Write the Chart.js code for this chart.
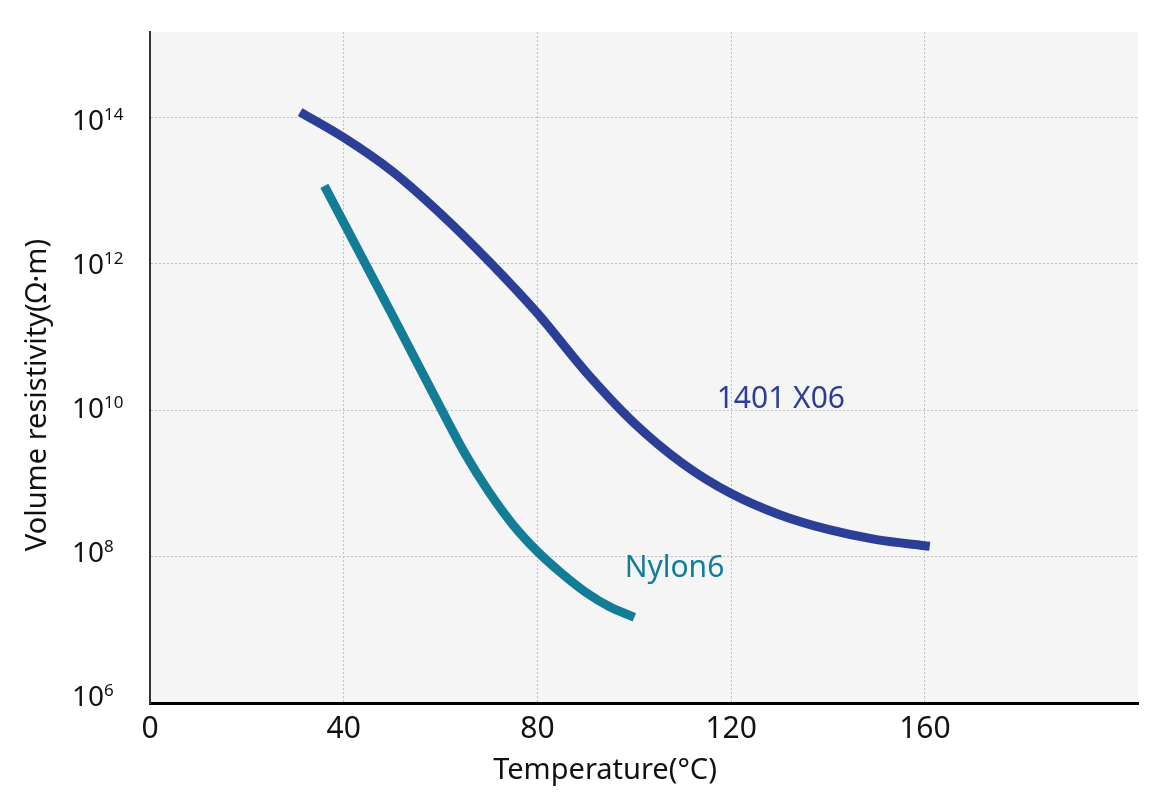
<!DOCTYPE html>
<html>
<head>
<meta charset="utf-8">
<script src="https://cdn.jsdelivr.net/npm/chart.js@4.4.1/dist/chart.umd.min.js"></script>
<style>
html, body { margin: 0; padding: 0; background: #fff; }
#wrap { width: 1160px; height: 812px; }
</style>
</head>
<body>
<div id="wrap"><canvas id="myChart"></canvas></div>
<script>
// datos
const xTicks = [0, 40, 80, 120, 160];
const yTicks = [1e6, 1e8, 1e10, 1e12, 1e14];

const tempX06 = [31, 40, 50, 60, 70, 80, 90, 100, 110, 120, 130, 140, 150, 161];
const resX06 = [1.17e14, 5.25e13, 1.82e13, 4.79e12, 1.07e12, 2.09e11, 3.31e10, 6.61e9, 1.86e9, 7.24e8, 3.72e8, 2.34e8, 1.7e8, 1.38e8];

const tempNylon = [36, 40, 50, 60, 65, 70, 75, 80, 85, 90, 95, 100];
const resNylon = [1.15e13, 3.63e12, 2.0e11, 1.07e10, 2.57e9, 7.59e8, 2.69e8, 1.17e8, 5.89e7, 3.24e7, 2.04e7, 1.48e7];

const seriesNames = ['1401 X06', 'Nylon6'];
const seriesColors = ['#2c3f96', '#137d98'];

const xTitle = 'Temperature(°C)';
const yTitle = 'Volume resistivity(Ω·m)';

const FONT = '"Noto Sans", sans-serif';

const toPoints = (xs, ys) => xs.map((x, i) => ({ x, y: ys[i] }));

const decorPlugin = {
    id: 'decor',
    beforeDraw(chart) {
        const { ctx, chartArea: a } = chart;
        ctx.save();
        ctx.fillStyle = '#f5f5f5';
        ctx.fillRect(a.left, a.top, a.right - a.left, a.bottom - a.top);
        ctx.restore();
    },
    afterDraw(chart) {
        const { ctx, scales } = chart;
        const x = scales.x;
        const y = scales.y;
        ctx.save();
        ctx.fillStyle = '#111';
        ctx.textBaseline = 'alphabetic';
        ctx.textAlign = 'left';
        // etiquetas 10^n
        yTicks.forEach(v => {
            const exp = Math.round(Math.log10(v));
            const py = y.getPixelForValue(v);
            const base = py + 3 + (exp - 6) * 1.25;
            ctx.font = '28px ' + FONT;
            ctx.fillText('10', 72, base);
            const w = ctx.measureText('10').width;
            ctx.font = '17px ' + FONT;
            ctx.fillText(String(exp), 72 + w, base - 10);
        });

        // titulos de ejes
        ctx.font = '29px ' + FONT;
        ctx.save();
        ctx.translate(46, 395);
        ctx.rotate(-Math.PI / 2);
        ctx.textAlign = 'center';
        ctx.fillText(yTitle, 0, 0);
        ctx.restore();

        ctx.font = '29px ' + FONT;
        ctx.textAlign = 'center';
        ctx.fillText(xTitle, 605, 779);

        // nombres de las curvas
        ctx.textAlign = 'left';
        ctx.font = '30px ' + FONT;
        ctx.fillStyle = seriesColors[0];
        ctx.fillText(seriesNames[0], x.getPixelForValue(117), y.getPixelForValue(1.05e10));
        ctx.fillStyle = seriesColors[1];
        ctx.fillText(seriesNames[1], x.getPixelForValue(98), y.getPixelForValue(5.3e7));
        ctx.restore();
    }
};

const ctx = document.querySelector('#myChart');
const chart = new Chart(ctx, {
    type: 'line',
    data: {
        datasets: [
            {
                label: seriesNames[0],
                data: toPoints(tempX06, resX06),
                borderColor: seriesColors[0],
                borderWidth: 9,
                cubicInterpolationMode: 'monotone',
                pointRadius: 0,
                fill: false,
            },
            {
                label: seriesNames[1],
                data: toPoints(tempNylon, resNylon),
                borderColor: seriesColors[1],
                borderWidth: 9,
                cubicInterpolationMode: 'monotone',
                pointRadius: 0,
                fill: false,
            },
        ],
    },
    options: {
        responsive: true,
        maintainAspectRatio: false,
        animation: false,
        layout: { padding: { top: 32, right: 22, left: 0, bottom: 0 } },
        plugins: {
            legend: { display: false },
            tooltip: { enabled: false },
        },
        scales: {
            x: {
                type: 'linear',
                min: 0,
                max: 204,
                afterBuildTicks: (scale) => { scale.ticks = xTicks.map(v => ({ value: v })); },
                afterFit: (scale) => { scale.height = 109; },
                grid: {
                    color: '#bdbdbd',
                    lineWidth: 1,
                    drawTicks: false,
                },
                border: { display: true, color: '#000', width: 3, dash: [2, 2] },
                ticks: {
                    color: '#111',
                    font: { family: FONT, size: 30 },
                    padding: 8,
                    maxRotation: 0,
                },
            },
            y: {
                type: 'logarithmic',
                min: 1e6,
                max: 1.45e15,
                afterBuildTicks: (scale) => { scale.ticks = yTicks.map(v => ({ value: v })); },
                afterFit: (scale) => { scale.width = 150; },
                grid: {
                    color: '#bdbdbd',
                    lineWidth: 1,
                    drawTicks: false,
                },
                border: { display: true, color: '#333', width: 2, dash: [2, 2] },
                ticks: { display: false },
            },
        },
    },
    plugins: [decorPlugin],
});
</script>
</body>
</html>
